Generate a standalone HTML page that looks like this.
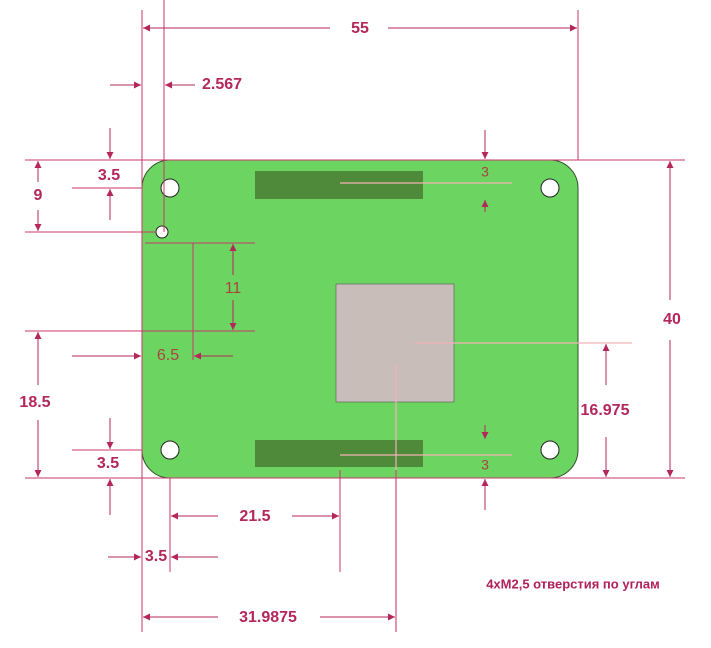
<!DOCTYPE html>
<html><head><meta charset="utf-8"><style>
body{margin:0;background:#fff}
svg{display:block}
text{font-family:"Liberation Sans",sans-serif;font-weight:bold;fill:#b3275a;font-size:16px;text-anchor:middle;dominant-baseline:middle}
</style></head><body>
<svg width="711" height="648" viewBox="0 0 711 648" xmlns="http://www.w3.org/2000/svg">
<defs>
<marker id="a" viewBox="0 0 10 10" refX="10" refY="5" markerWidth="9" markerHeight="7" orient="auto" markerUnits="userSpaceOnUse"><path d="M0,0L10,5L0,10z" fill="#b3275a"/></marker>
</defs>
<rect x="142" y="160" width="436" height="318" rx="28" fill="#6cd561" stroke="#2f4f2a" stroke-width="1"/>
<rect x="255" y="171" width="168" height="28" fill="#4f8a3a"/>
<rect x="255" y="440" width="168" height="27" fill="#4f8a3a"/>
<rect x="336" y="284" width="118" height="118" fill="#c9bdb9" stroke="#555" stroke-width="0.6"/>
<g fill="#fff" stroke="#222" stroke-width="1">
<circle cx="170" cy="188" r="9"/><circle cx="550" cy="188" r="9"/>
<circle cx="170" cy="450" r="9"/><circle cx="550" cy="450" r="9"/>
<circle cx="162" cy="232" r="6"/>
</g>
<g stroke="#f2b2b8" stroke-width="1.2">
<line x1="340" y1="183" x2="512" y2="183"/>
<line x1="340" y1="455" x2="512" y2="455"/>
<line x1="415" y1="343" x2="632" y2="343"/>
<line x1="396" y1="365" x2="396" y2="632"/>
</g>
<g stroke="#c9376a" stroke-width="1" fill="none">
<line x1="142" y1="10" x2="142" y2="632"/>
<line x1="578" y1="10" x2="578" y2="160"/>
<line x1="164" y1="0" x2="164" y2="232"/>
<line x1="25" y1="160" x2="685" y2="160"/>
<line x1="72" y1="188" x2="142" y2="188"/>
<line x1="25" y1="232" x2="156" y2="232"/>
<line x1="145" y1="243" x2="255" y2="243"/>
<line x1="25" y1="331" x2="255" y2="331"/>
<line x1="193" y1="243" x2="193" y2="360"/>
<line x1="72" y1="450" x2="142" y2="450"/>
<line x1="25" y1="478" x2="685" y2="478"/>
<line x1="170" y1="478" x2="170" y2="572"/>
<line x1="340" y1="470" x2="340" y2="572"/>
<line x1="396" y1="470" x2="396" y2="632"/>
</g>
<g stroke="#b3275a" stroke-width="1" marker-end="url(#a)">
<line x1="330" y1="28" x2="143" y2="28"/><line x1="388" y1="28" x2="577" y2="28"/>
<line x1="110" y1="85" x2="141" y2="85"/><line x1="195" y1="85" x2="165" y2="85"/>
<line x1="110" y1="128" x2="110" y2="159"/><line x1="110" y1="220" x2="110" y2="189"/>
<line x1="38" y1="182" x2="38" y2="161"/><line x1="38" y1="210" x2="38" y2="231"/>
<line x1="233" y1="275" x2="233" y2="244"/><line x1="233" y1="300" x2="233" y2="330"/>
<line x1="72" y1="356" x2="141" y2="356"/><line x1="233" y1="356" x2="194" y2="356"/>
<line x1="38" y1="385" x2="38" y2="332"/><line x1="38" y1="420" x2="38" y2="477"/>
<line x1="110" y1="418" x2="110" y2="449"/><line x1="110" y1="515" x2="110" y2="479"/>
<line x1="218" y1="516" x2="171" y2="516"/><line x1="292" y1="516" x2="339" y2="516"/>
<line x1="108" y1="557" x2="141" y2="557"/><line x1="218" y1="557" x2="171" y2="557"/>
<line x1="218" y1="617" x2="143" y2="617"/><line x1="320" y1="617" x2="395" y2="617"/>
<line x1="670" y1="300" x2="670" y2="161"/><line x1="670" y1="340" x2="670" y2="477"/>
<line x1="606" y1="385" x2="606" y2="344"/><line x1="606" y1="437" x2="606" y2="477"/>
<line x1="485" y1="130" x2="485" y2="159"/><line x1="485" y1="212" x2="485" y2="200"/>
<line x1="485" y1="425" x2="485" y2="439"/><line x1="485" y1="510" x2="485" y2="479"/>
</g>
<text x="360" y="29">55</text>
<text x="222" y="85">2.567</text>
<text x="109" y="176">3.5</text>
<text x="38" y="196">9</text>
<text x="233" y="289" style="fill:#a9433f;font-weight:normal">11</text>
<text x="168" y="356" style="fill:#a9433f;font-weight:normal">6.5</text>
<text x="35" y="403">18.5</text>
<text x="108" y="464">3.5</text>
<text x="255" y="517">21.5</text>
<text x="156" y="557">3.5</text>
<text x="268" y="618">31.9875</text>
<text x="672" y="320">40</text>
<text x="605" y="411">16.975</text>
<text x="485" y="173" style="fill:#a9433f;font-weight:normal;font-size:14px">3</text>
<text x="485" y="466" style="fill:#a9433f;font-weight:normal;font-size:14px">3</text>
<text x="573" y="585" style="font-size:13px;fill:#b0205a">4xM2,5 отверстия по углам</text>
</svg>
</body></html>
